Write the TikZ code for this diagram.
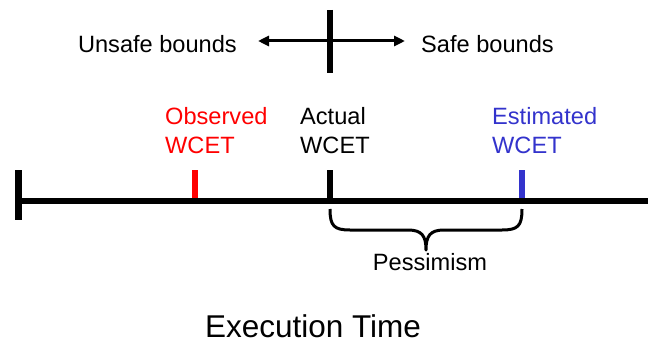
\documentclass[tikz,border=0pt]{standalone}
\usepackage{fontspec}
\setmainfont{Liberation Sans}
\usetikzlibrary{arrows.meta}
\definecolor{obsred}{RGB}{255,0,0}
\definecolor{estblue}{RGB}{51,51,204}
\tikzset{
  lbl/.style={inner sep=0pt, anchor=base west, font=\fontsize{23.6}{29}\selectfont, align=left},
  thick line/.style={line width=6pt},
  mid line/.style={line width=3pt},
}
\begin{document}
\begin{tikzpicture}[x=1pt,y=-1pt]
\useasboundingbox (0,0) rectangle (648,345);
% top cross
\coordinate (vt) at (330,10);
\coordinate (vb) at (330,73);
\draw[thick line] (vt) -- (vb);
\coordinate (al) at (258,41);
\coordinate (ar) at (405,41);
\draw[mid line, {Triangle[length=11pt,width=10pt]}-{Triangle[length=11pt,width=10pt]}] (al) -- (ar);
\node[lbl, anchor=base east] (unsafe) at (237,53) {Unsafe bounds};
\node[lbl] (safe) at (421,53) {Safe bounds};
% labels
\node[lbl, text=obsred] (obs) at (165,153) {Observed\\WCET};
\node[lbl] (act) at (300,153) {Actual\\WCET};
\node[lbl, text=estblue] (est) at (492,153) {Estimated\\WCET};
% time line
\coordinate (ls) at (18.5,201);
\coordinate (le) at (648,201);
\draw[thick line] (ls) -- (le);
\coordinate (lt) at (18.5,170);
\coordinate (lb) at (18.5,220);
\draw[line width=6.5pt] (lt) -- (lb);
\coordinate (rt) at (194.5,170);
\coordinate (rb) at (194.5,198);
\draw[thick line, obsred] (rt) -- (rb);
\coordinate (at) at (330,170);
\coordinate (ab) at (330,198);
\draw[thick line] (at) -- (ab);
\coordinate (bt) at (522,170);
\coordinate (bb) at (522,198);
\draw[thick line, estblue] (bt) -- (bb);
% brace
\coordinate (bl) at (330,209);
\coordinate (br) at (522,209);
\coordinate (tip) at (426,250);
\draw[mid line, line join=round]
  (bl) .. controls (330,226) and (334,230) .. (350,230) -- (408,230)
  .. controls (422,230) and (426,236) .. (tip)
  .. controls (426,236) and (430,230) .. (444,230) -- (502,230)
  .. controls (518,230) and (522,226) .. (br);
\node[lbl, anchor=base] (pess) at (430,270) {Pessimism};
\node[inner sep=0pt, anchor=base, font=\fontsize{31.5}{36}\selectfont] (exec) at (313,337.5) {Execution Time};
\end{tikzpicture}
\end{document}
